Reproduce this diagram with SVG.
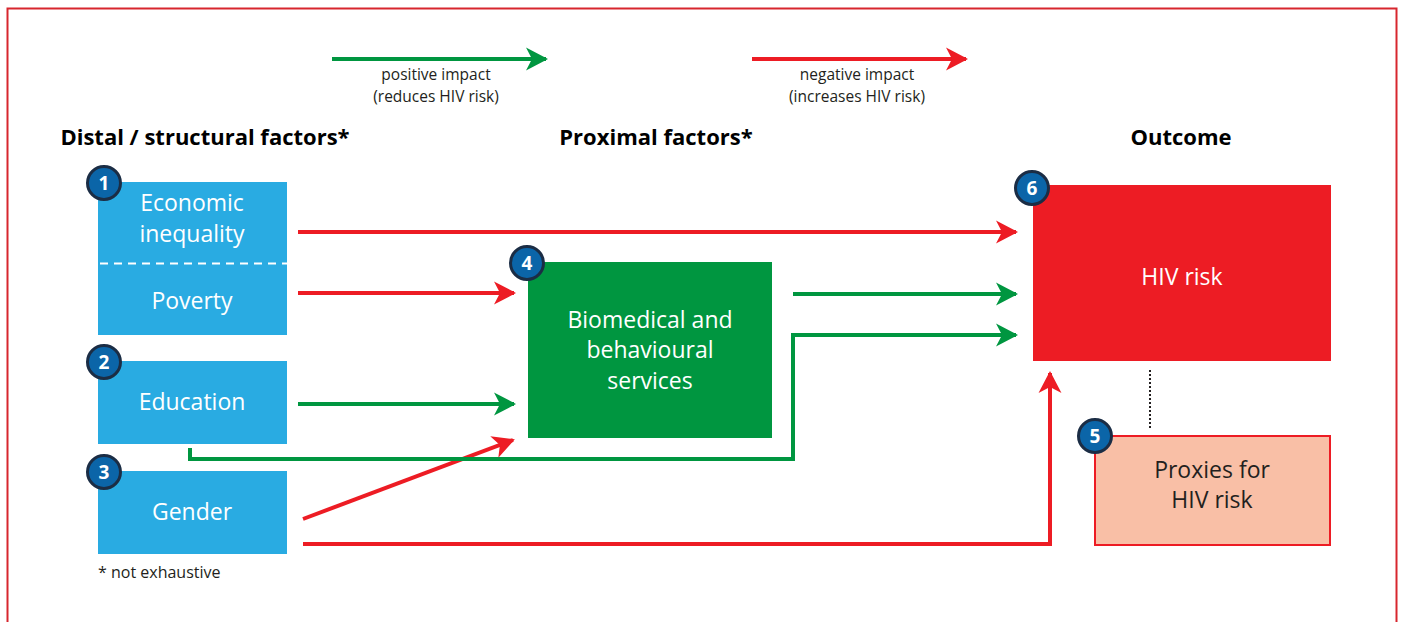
<svg xmlns="http://www.w3.org/2000/svg" width="1404" height="622" viewBox="0 0 1404 622">
<style>
text{font-family:"Open Sans","Liberation Sans",sans-serif}
.h{font-size:22px;font-weight:bold;fill:#000;text-anchor:middle}
.lg{font-size:15.5px;fill:#231f20;text-anchor:middle}
.w{font-size:23px;fill:#fff;text-anchor:middle}
.d{font-size:23px;fill:#231f20;text-anchor:middle}
.bd circle{fill:#0b65a8;stroke:#1b2d45;stroke-width:3}
.bd text{font-size:19px;font-weight:bold;fill:#fff;text-anchor:middle}
.r{stroke:#ed1c24;stroke-width:4;fill:none}
.g{stroke:#009640;stroke-width:4;fill:none}
</style>
<defs>
<marker id="ar" markerUnits="userSpaceOnUse" markerWidth="24" markerHeight="24" refX="20" refY="12" orient="auto"><path d="M0,0.5 L22,12 L0,23.5 L6,12 Z" fill="#ed1c24"/></marker>
<marker id="ag" markerUnits="userSpaceOnUse" markerWidth="24" markerHeight="24" refX="20" refY="12" orient="auto"><path d="M0,0.5 L22,12 L0,23.5 L6,12 Z" fill="#009640"/></marker>
</defs>
<rect x="7.5" y="8.5" width="1389" height="630" fill="none" stroke="#d7262e" stroke-width="2"/>
<g id="legend">
<line class="g" x1="332" y1="59" x2="546" y2="59" marker-end="url(#ag)"/>
<text class="lg" x="436" y="80">positive impact</text>
<text class="lg" x="436" y="102">(reduces HIV risk)</text>
<line class="r" x1="752" y1="59" x2="966" y2="59" marker-end="url(#ar)"/>
<text class="lg" x="857" y="80">negative impact</text>
<text class="lg" x="857" y="102">(increases HIV risk)</text>
</g>
<g id="headings">
<text class="h" x="205" y="145">Distal / structural factors*</text>
<text class="h" x="656" y="145">Proximal factors*</text>
<text class="h" x="1181" y="145">Outcome</text>
</g>
<g id="connectors">
<line class="r" x1="298" y1="232" x2="1016" y2="232" marker-end="url(#ar)"/>
<line class="r" x1="298" y1="293" x2="514" y2="293" marker-end="url(#ar)"/>
<line class="g" x1="298" y1="404" x2="514" y2="404" marker-end="url(#ag)"/>
<line class="r" x1="303" y1="519" x2="513" y2="440" marker-end="url(#ar)"/>
<polyline class="g" points="190,448 190,459 793,459 793,335 1016,335" marker-end="url(#ag)"/>
<line class="g" x1="793" y1="294" x2="1016" y2="294" marker-end="url(#ag)"/>
<polyline class="r" points="303,544 1050,544 1050,373" marker-end="url(#ar)"/>
<line x1="1150" y1="370" x2="1150" y2="429" stroke="#231f20" stroke-width="2" stroke-dasharray="2,2"/>
</g>
<g id="n1">
<rect x="98" y="182" width="189" height="153" fill="#29abe2"/>
<line x1="100" y1="263.5" x2="287" y2="263.5" stroke="#fff" stroke-width="2" stroke-dasharray="8,6"/>
<text class="w" x="192" y="211">Economic</text>
<text class="w" x="192" y="242">inequality</text>
<text class="w" x="192" y="309">Poverty</text>
<g class="bd"><circle cx="104" cy="183" r="16.5"/><text x="104" y="190">1</text></g>
</g>
<g id="n2">
<rect x="98" y="361" width="189" height="83" fill="#29abe2"/>
<text class="w" x="192" y="410">Education</text>
<g class="bd"><circle cx="104" cy="362" r="16.5"/><text x="104" y="369">2</text></g>
</g>
<g id="n3">
<rect x="98" y="471" width="189" height="83" fill="#29abe2"/>
<text class="w" x="192" y="520">Gender</text>
<g class="bd"><circle cx="104" cy="472" r="16.5"/><text x="104" y="479">3</text></g>
<text x="98" y="578" font-size="16" fill="#231f20">* not exhaustive</text>
</g>
<g id="n4">
<rect x="528" y="262" width="244" height="176" fill="#009640"/>
<text class="w" x="650" y="328">Biomedical and</text>
<text class="w" x="650" y="358">behavioural</text>
<text class="w" x="650" y="389">services</text>
<g class="bd"><circle cx="527" cy="263" r="16.5"/><text x="527" y="270">4</text></g>
</g>
<g id="n6">
<rect x="1033" y="185" width="298" height="176" fill="#ed1c24"/>
<text class="w" x="1182" y="285">HIV risk</text>
<g class="bd"><circle cx="1032" cy="188" r="16.5"/><text x="1032" y="195">6</text></g>
</g>
<g id="n5">
<rect x="1095" y="436" width="235" height="109" fill="#f9bfa6" stroke="#ed1c24" stroke-width="2"/>
<text class="d" x="1212" y="478">Proxies for</text>
<text class="d" x="1212" y="508">HIV risk</text>
<g class="bd"><circle cx="1095" cy="436" r="16.5"/><text x="1095" y="443">5</text></g>
</g>
</svg>
